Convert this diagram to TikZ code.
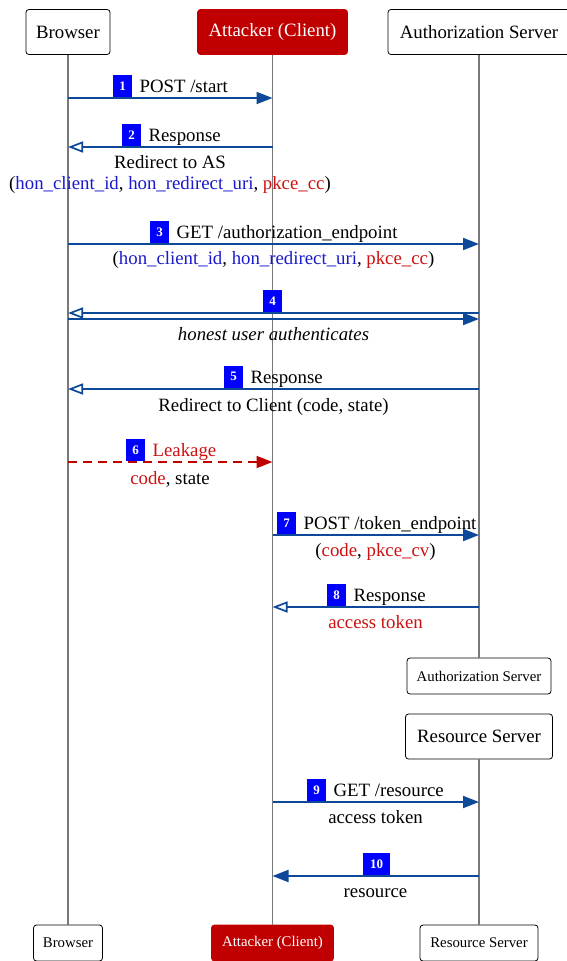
\documentclass[tikz,border=0pt]{standalone}
\usepackage{fontspec}
\setmainfont{Liberation Serif}
\usetikzlibrary{arrows.meta}
\definecolor{arrowblue}{RGB}{14,72,152}
\definecolor{badgeblue}{RGB}{0,0,255}
\definecolor{atkred}{RGB}{192,0,0}
\definecolor{txtred}{RGB}{204,17,17}
\definecolor{txtblue}{RGB}{26,26,204}
\definecolor{lifegray}{RGB}{120,120,120}
\newcommand{\hb}[1]{\textcolor{txtblue}{#1}}
\newcommand{\hr}[1]{\textcolor{txtred}{#1}}
\begin{document}
\begin{tikzpicture}[x=1pt,y=-1pt,
 every node/.style={font=\fontsize{18.8}{22}\selectfont},
 actor/.style={draw=black, line width=0.8pt, rounded corners=3pt, fill=white, inner sep=0pt, minimum height=45pt},
 smallactor/.style={actor, minimum height=36pt, font=\fontsize{14.8}{17}\selectfont},
 attacker/.style={fill=atkred, draw=atkred, text=white},
 life/.style={draw=lifegray, line width=1.2pt},
 msg/.style={draw=arrowblue, line width=1.9pt, -{Triangle[length=16pt,width=12pt]}},
 reply/.style={draw=arrowblue, line width=1.9pt, -{Triangle[open,length=15pt,width=11pt,line width=1.7pt]}},
 leak/.style={draw=atkred, line width=1.9pt, dash pattern=on 9pt off 6pt, -{Triangle[length=16pt,width=12pt]}},
 badge/.style={fill=badgeblue, text=white, inner sep=0pt, minimum width=19pt, minimum height=22pt, font=\fontsize{13}{13}\selectfont\bfseries, anchor=south west},
 lbl/.style={anchor=base west, inner sep=0pt},
 sub/.style={anchor=base, inner sep=0pt},
]
\useasboundingbox (0,0) rectangle (566,961);

% actors
\node[actor, minimum width=84pt] (B) at (68,32) {Browser};
\node[actor, attacker, minimum width=150pt] (A) at (272.5,32) {Attacker (Client)};
\node[actor, minimum width=182pt] (S) at (479,32) {Authorization Server};
\node[smallactor, minimum width=144pt] (Send) at (479,676) {Authorization Server};
\node[actor, minimum width=147pt] (R) at (479,736.5) {Resource Server};
\node[smallactor, minimum width=69pt] (Bend) at (68,943) {Browser};
\node[smallactor, attacker, minimum width=122pt] (Aend) at (272.5,943) {Attacker (Client)};
\node[smallactor, minimum width=118pt] (Rend) at (479,943) {Resource Server};

% lifelines
\draw[life] (B.south) -- (Bend.north);
\draw[life] (A.south) -- (Aend.north);
\draw[life] (S.south) -- (Send.north);
\draw[life] (R.south) -- (Rend.north);

% message endpoints
\coordinate (m1a) at (B |- 0,98);   \coordinate (m1b) at (A |- 0,98);
\coordinate (m2a) at (A |- 0,147);  \coordinate (m2b) at (B |- 0,147);
\coordinate (m3a) at (B |- 0,244);  \coordinate (m3b) at (S |- 0,244);
\coordinate (m4a) at (S |- 0,313);  \coordinate (m4b) at (B |- 0,313);
\coordinate (m4c) at (B |- 0,319);  \coordinate (m4d) at (S |- 0,319);
\coordinate (m5a) at (S |- 0,389);  \coordinate (m5b) at (B |- 0,389);
\coordinate (m6a) at (B |- 0,462);  \coordinate (m6b) at (A |- 0,462);
\coordinate (m7a) at (A |- 0,535);  \coordinate (m7b) at (S |- 0,535);
\coordinate (m8a) at (S |- 0,607);  \coordinate (m8b) at (A |- 0,607);
\coordinate (m9a) at (A |- 0,802);  \coordinate (m9b) at (R |- 0,802);
\coordinate (m10a) at (R |- 0,876); \coordinate (m10b) at (A |- 0,876);

% arrows
\draw[msg] (m1a) -- (m1b);
\draw[reply] (m2a) -- (m2b);
\draw[msg] (m3a) -- (m3b);
\draw[reply] (m4a) -- (m4b);
\draw[msg] (m4c) -- (m4d);
\draw[reply] (m5a) -- (m5b);
\draw[leak] (m6a) -- (m6b);
\draw[msg] (m7a) -- (m7b);
\draw[reply] (m8a) -- (m8b);
\draw[msg] (m9a) -- (m9b);
\draw[msg] (m10a) -- (m10b);

% badges and labels
\node[badge] (b1) at (113,97) {1};
\node[lbl] (l1) at ([xshift=7pt,yshift=-7pt]b1.east) {POST /start};
\node[badge] (b2) at (122,146) {2};
\node[lbl] (l2) at ([xshift=7pt,yshift=-7pt]b2.east) {Response};
\node[badge] (b3) at (150,243) {3};
\node[lbl] (l3) at ([xshift=7pt,yshift=-7pt]b3.east) {GET /authorization\_endpoint};
\node[badge] (b4) at (263,312) {4};
\node[badge] (b5) at (224,388) {5};
\node[lbl] (l5) at ([xshift=7pt,yshift=-7pt]b5.east) {Response};
\node[badge] (b6) at (126,461) {6};
\node[lbl, text=txtred] (l6) at ([xshift=7pt,yshift=-7pt]b6.east) {Leakage};
\node[badge] (b7) at (277,534) {7};
\node[lbl] (l7) at ([xshift=7pt,yshift=-7pt]b7.east) {POST /token\_endpoint};
\node[badge] (b8) at (327,606) {8};
\node[lbl] (l8) at ([xshift=7pt,yshift=-7pt]b8.east) {Response};
\node[badge] (b9) at (307,801) {9};
\node[lbl] (l9) at ([xshift=7pt,yshift=-7pt]b9.east) {GET /resource};
\node[badge, minimum width=27pt] (b10) at (363,875) {10};

% sub labels
\node[sub] (s2a) at (170,168) {Redirect to AS};
\node[sub] (s2b) at (170,189) {(\hb{hon\_client\_id}, \hb{hon\_redirect\_uri}, \hr{pkce\_cc})};
\node[sub] (s3) at (273.5,264) {(\hb{hon\_client\_id}, \hb{hon\_redirect\_uri}, \hr{pkce\_cc})};
\node[sub] (s4) at (273.5,340) {\textit{honest user authenticates}};
\node[sub] (s5) at (273.5,411) {Redirect to Client (code, state)};
\node[sub] (s6) at (170,484) {\hr{code}, state};
\node[sub] (s7) at (375.5,556) {(\hr{code}, \hr{pkce\_cv})};
\node[sub, text=txtred] (s8) at (375.5,628) {access token};
\node[sub] (s9) at (375.5,823) {access token};
\node[sub] (s10) at (375.5,897) {resource};
\end{tikzpicture}
\end{document}
